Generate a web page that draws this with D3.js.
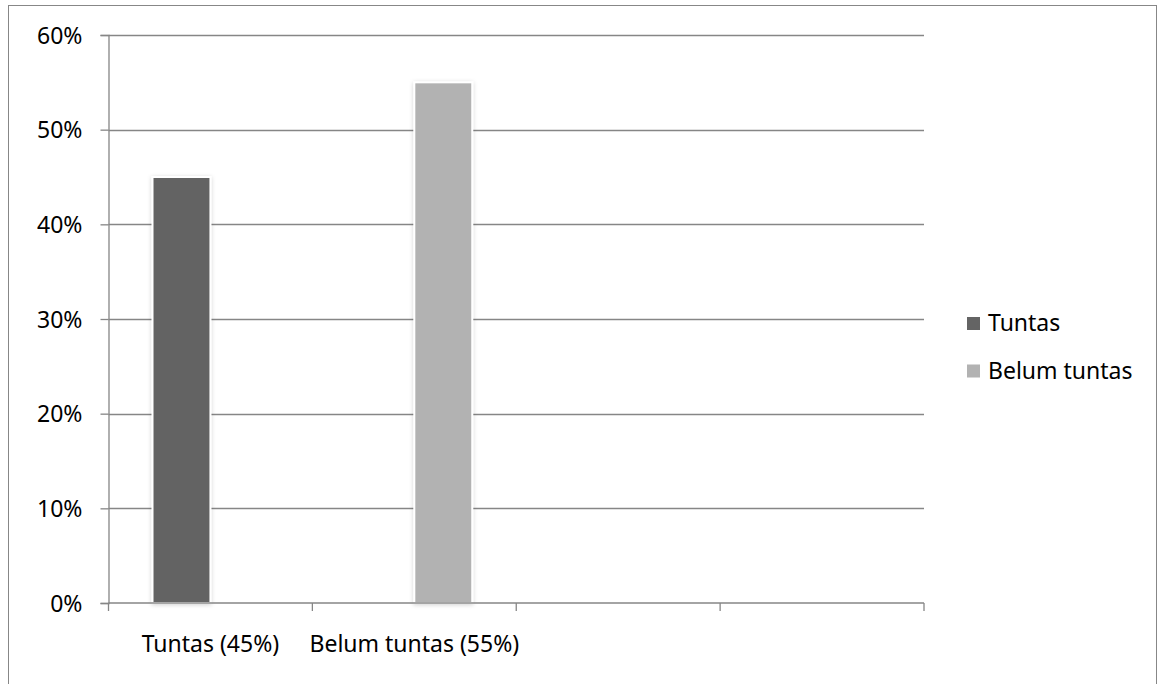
<!DOCTYPE html>
<html>
<head>
<meta charset="utf-8">
<script src="https://cdn.jsdelivr.net/npm/d3@7"></script>
<style>
  body { margin: 0; background: #fff; }
  text { font-family: "Noto Sans", sans-serif; fill: #000; }
</style>
</head>
<body>
<script>
var categories = ["Tuntas (45%)", "Belum tuntas (55%)", "", ""]; // 4 slots on the x-axis, last two empty
var seriesNames = ["Tuntas", "Belum tuntas"]; // legend
var tuntas = [45, 0, 0, 0];       // % per category
var belumTuntas = [0, 55, 0, 0];  // % per category
var yTicks = [0, 10, 20, 30, 40, 50, 60]; // tick labels
var colors = ["#646464", "#b2b2b2"];

var width = 1159;
var height = 684;
var fontSize = "23px";
var margin = {top: 35, left: 108.5, right: 235, bottom: 81}; // plot area 108.5..924, 35..603

var svg = d3.select("body").append("svg").attr("width", width).attr("height", height);

// soft shadow round the bars
var defs = svg.append("defs");
var filter = defs.append("filter").attr("id", "shadow").attr("x", "-20%").attr("y", "-5%").attr("width", "140%").attr("height", "115%");
filter.append("feDropShadow").attr("dx", 0).attr("dy", 1).attr("stdDeviation", 2).attr("flood-color", "#000").attr("flood-opacity", 0.18);

// outer chart border
svg.append("rect")
   .attr("x", 8.5).attr("y", 5.5)
   .attr("width", 1148).attr("height", 700)
   .attr("fill", "none").attr("stroke", "#878787").attr("stroke-width", 1);

var x = d3.scaleBand()
      .domain(d3.range(categories.length)) // 0..3
      .range([margin.left, width - margin.right])
      .paddingInner(0).paddingOuter(0);

var y = d3.scaleLinear()
      .domain([0, 60])
      .range([height - margin.bottom, margin.top]);

// series band inside each category (gap on both sides)
var gap = 44;
var xs = d3.scaleBand()
      .domain(d3.range(seriesNames.length))
      .range([gap, x.bandwidth() - gap]);

var grid = svg.append("g");
grid.selectAll("line")
    .data(yTicks.filter(function(d) { return d > 0; }))
    .enter().append("line")
      .attr("x1", margin.left).attr("x2", width - margin.right)
      .attr("y1", function(d) { return Math.round(y(d)) + 0.5; })
      .attr("y2", function(d) { return Math.round(y(d)) + 0.5; })
      .attr("stroke", "#868686").attr("stroke-width", 1.3);

var yAxis = d3.axisLeft(y).tickValues(yTicks).tickFormat(function(d) { return d + "%"; }).tickSize(8).tickPadding(18);

var series = [tuntas, belumTuntas];
series.forEach(function(values, s) {
  var points = values.map(function(v, i) { return {v: v, i: i}; }) // keep the category index
                     .filter(function(d) { return d.v > 0; });
  svg.append("g").selectAll("rect")
     .data(points)
     .enter().append("rect")
       .attr("x", function(d) { return x(d.i) + xs(s); })
       .attr("y", function(d) { return y(d.v); })
       .attr("width", xs.bandwidth())
       .attr("height", function(d) { return y(0) - y(d.v); })
       .attr("fill", colors[s])
       .attr("stroke", "#fff").attr("stroke-width", 2)
       .attr("filter", "url(#shadow)");
});

var gy = svg.append("g")
   .attr("transform", "translate(" + margin.left + ",0)")
   .call(yAxis);
gy.select(".domain").attr("stroke", "#868686").attr("stroke-width", 1.3);
gy.selectAll(".tick line").attr("stroke", "#868686").attr("stroke-width", 1.3);
gy.selectAll(".tick text").style("font-size", fontSize).attr("dy", "0.35em");

var gx = svg.append("g")
   .attr("transform", "translate(0," + y(0) + ")");
gx.append("line")
  .attr("x1", margin.left).attr("x2", width - margin.right)
  .attr("y1", 0).attr("y2", 0)
  .attr("stroke", "#868686").attr("stroke-width", 1.3);
// tick marks at category boundaries
gx.selectAll(".tk")
  .data(d3.range(categories.length + 1))
  .enter().append("line")
    .attr("x1", function(i) { return i < categories.length ? x(i) : x(i - 1) + x.bandwidth(); })
    .attr("x2", function(i) { return i < categories.length ? x(i) : x(i - 1) + x.bandwidth(); })
    .attr("y1", 0).attr("y2", 8)
    .attr("stroke", "#868686").attr("stroke-width", 1.3);
gx.selectAll(".lbl")
  .data(categories)
  .enter().append("text")
    .attr("x", function(d, i) { return x(i) + x.bandwidth() / 2; })
    .attr("y", 49)
    .attr("text-anchor", "middle")
    .style("font-size", fontSize)
    .text(function(d) { return d; });

// legend
var legend = svg.append("g");
seriesNames.forEach(function(name, s) {
  legend.append("rect")
        .attr("x", 967).attr("y", 317 + s * 47.5)
        .attr("width", 13).attr("height", 13)
        .attr("fill", colors[s]);
  legend.append("text")
        .attr("x", 988).attr("y", 331 + s * 47.5)
        .style("font-size", fontSize)
        .text(name);
});
</script>
</body>
</html>
